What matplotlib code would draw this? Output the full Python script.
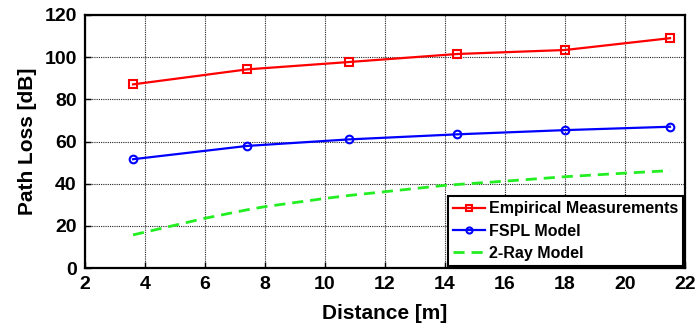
import matplotlib
matplotlib.use("Agg")
import matplotlib.pyplot as plt

plt.rcParams['font.family'] = ['Liberation Sans', 'DejaVu Sans']
plt.rcParams['font.weight'] = 'bold'

distance = [3.6, 7.4, 10.8, 14.4, 18.0, 21.5]
empirical = [87.1, 94.2, 97.7, 101.5, 103.4, 109.0]
fspl = [51.6, 57.9, 61.0, 63.4, 65.4, 67.0]

tworay_distance = [3.6, 5.0, 6.0, 7.4, 8.0, 10.0, 10.8, 12.0, 14.0, 14.4, 16.0, 18.0, 20.0, 21.5]
tworay = [15.7, 20.3, 23.6, 27.6, 29.1, 33.0, 34.4, 36.2, 39.2, 39.6, 41.2, 43.3, 45.0, 46.2]

xticks = [2, 4, 6, 8, 10, 12, 14, 16, 18, 20, 22]
yticks = [0, 20, 40, 60, 80, 100, 120]

fig = plt.figure(figsize=(6.98, 3.31), dpi=100)
ax = fig.add_axes([0.1218, 0.1903, 0.8596, 0.7644])

ax.plot(distance, empirical, color='#ff0000', lw=1.6, marker='s', ms=5.5,
        mfc='none', mec='#ff0000', mew=1.5, label='Empirical Measurements')
ax.plot(distance, fspl, color='#0000ff', lw=1.6, marker='o', ms=5.5,
        mfc='none', mec='#0000ff', mew=1.5, label='FSPL Model')
ax.plot(tworay_distance, tworay, color='#22ee22', lw=2.0, ls=(0, (4, 2.5)),
        label='2-Ray Model')

ax.set_xlim(2, 22)
ax.set_ylim(0, 120)
ax.set_xticks(xticks)
ax.set_yticks(yticks)
ax.tick_params(direction='in', length=4, width=1, labelsize=14, pad=6)
for lbl in ax.get_xticklabels() + ax.get_yticklabels():
    lbl.set_fontweight('bold')

ax.grid(True, color='#222222', ls=(0, (1, 1)), lw=0.8)
for s in ax.spines.values():
    s.set_linewidth(1.6)

ax.set_xlabel('Distance [m]', fontsize=15, fontweight='bold', labelpad=8)
ax.set_ylabel('Path Loss [dB]', fontsize=15, fontweight='bold', labelpad=5)

leg = ax.legend(loc='lower right', fontsize=11.5, frameon=True, fancybox=False,
                edgecolor='black', framealpha=1, borderpad=0.35, labelspacing=0.45,
                handlelength=2.0, handletextpad=0.2, borderaxespad=0.1,
                markerscale=0.8)
leg.get_frame().set_linewidth(1.5)
for t in leg.get_texts():
    t.set_fontweight('bold')

fig.savefig('out.png', dpi=100)
